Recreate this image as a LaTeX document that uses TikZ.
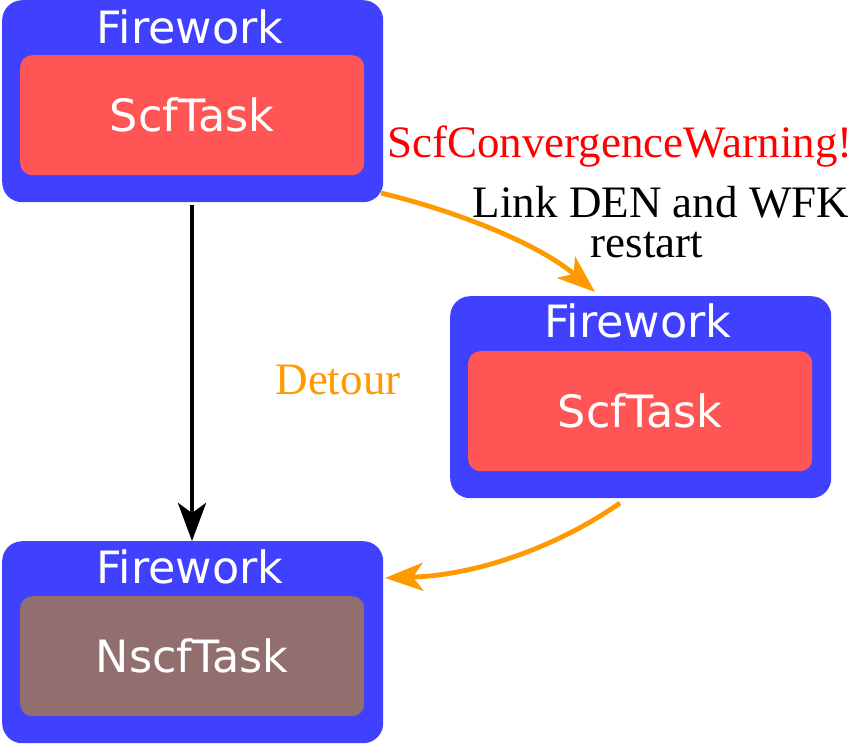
\documentclass[tikz,border=0pt]{standalone}
\usepackage{fontspec}
\setmainfont{Liberation Serif}
\newfontfamily\boxfont{DejaVu Sans}
\usetikzlibrary{arrows.meta}
\definecolor{fwblue}{RGB}{64,64,255}
\definecolor{taskred}{RGB}{255,85,85}
\definecolor{taskbrown}{RGB}{145,111,111}
\definecolor{detorange}{RGB}{255,153,0}
\tikzset{
  fwbox/.style={fill=fwblue, draw=none, rounded corners=20pt, minimum width=381pt, minimum height=202pt, inner sep=0pt, anchor=north west},
  taskbox/.style={draw=none, rounded corners=12pt, minimum width=344pt, minimum height=120pt, inner sep=0pt, anchor=north west, text=white, font=\boxfont\fontsize{44.5}{50}\selectfont},
  fwlabel/.style={text=white, font=\boxfont\fontsize{44.5}{50}\selectfont, inner sep=0pt},
  lbl/.style={font=\fontsize{45}{40}\selectfont, inner sep=0pt, align=center},
  flow/.style={line width=4.8pt, -{Stealth[length=38pt, width=28pt, inset=10pt]}},
}
\begin{document}
\begin{tikzpicture}[x=1pt, y=-1pt]
\useasboundingbox (0,0) rectangle (856,744);
% boxes
\node[fwbox] (fw1) at (2,0) {};
\node[taskbox, fill=taskred] (t1) at (20,55) {ScfTask};
\node[fwlabel] (l1) at (190,27) {Firework};

\node[fwbox] (fw2) at (450,296) {};
\node[taskbox, fill=taskred] (t2) at (468,351) {ScfTask};
\node[fwlabel] (l2) at (638,321) {Firework};

\node[fwbox] (fw3) at (2,541) {};
\node[taskbox, fill=taskbrown] (t3) at (20,596) {NscfTask};
\node[fwlabel] (l3) at (190,567) {Firework};

% labels
\node[lbl, text=red] (warn) at (620,147) {ScfConvergenceWarning!};
\node[lbl, text=black] (link) at (661,222) {Link DEN and WFK\\\hspace*{-28pt}restart};
\node[lbl, text=detorange] (det) at (338,380) {Detour};

% connectors
\coordinate (a1) at (192,205);
\draw[flow, black] (a1) -- (fw3.north -| a1);
\coordinate (b1) at (381,193);
\coordinate (b2) at (595,292);
\draw[flow, detorange] (b1) .. controls (460,212) and (540,245) .. (b2);
\coordinate (c1) at (620,503);
\coordinate (c2) at (385,578);
\draw[flow, detorange] (c1) .. controls (560,545) and (480,575) .. (c2);
\end{tikzpicture}
\end{document}
